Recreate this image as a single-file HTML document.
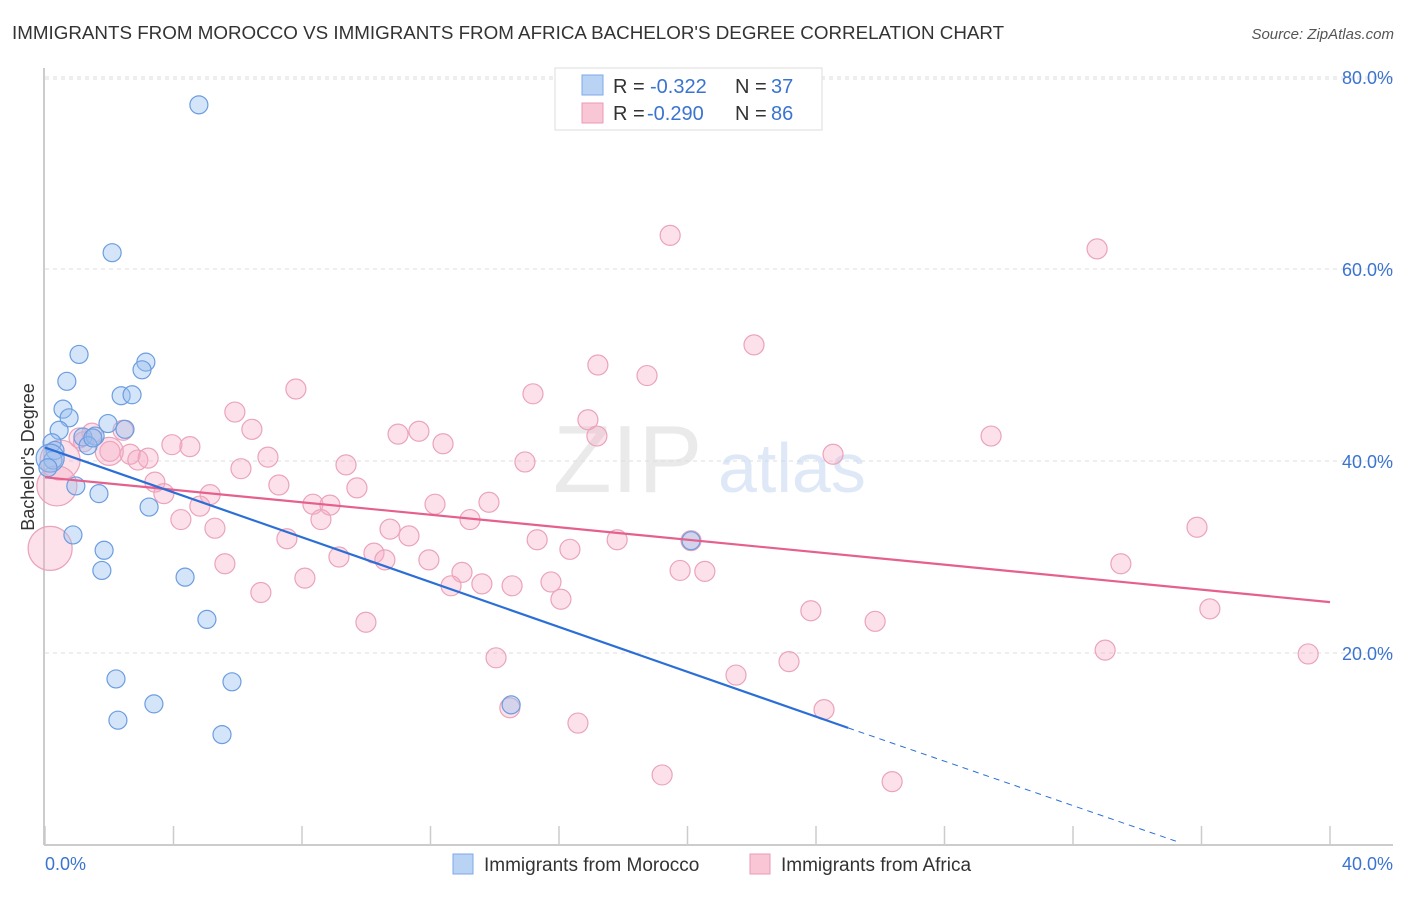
<!DOCTYPE html>
<html><head><meta charset="utf-8"><style>
body{margin:0;background:#fff;font-family:"Liberation Sans",sans-serif;}
svg text{font-family:"Liberation Sans",sans-serif;}
</style></head><body>
<svg id="chart" width="1406" height="892" xmlns="http://www.w3.org/2000/svg">
<text x="12" y="39" font-size="18.8" fill="#333">IMMIGRANTS FROM MOROCCO VS IMMIGRANTS FROM AFRICA BACHELOR'S DEGREE CORRELATION CHART</text>
<text x="1394" y="39" font-size="15" fill="#555" font-style="italic" text-anchor="end">Source: ZipAtlas.com</text>
<text transform="translate(34,457) rotate(-90)" font-size="18" fill="#333" text-anchor="middle">Bachelor's Degree</text>
<g id="grid"></g>
<g><text x="553" y="492" font-size="96" fill="#ddd" font-family="Liberation Serif" opacity="0.6">ZIP</text><text x="718" y="492" font-size="70" fill="#c9daf2" opacity="0.6">atlas</text></g>
<g id="axes"></g>
<g id="pink"></g>
<g id="blue"></g>
<g id="trends"></g>
<g>
<rect x="555" y="68" width="267" height="62" fill="#fff" stroke="#ddd"/>
<rect x="582" y="75" width="21" height="20" fill="#b9d3f5" stroke="#7ea8e6"/>
<rect x="582" y="103" width="21" height="20" fill="#f9c6d5" stroke="#eb9ab5"/>
<text x="613" y="93" font-size="20" fill="#333">R = </text><text x="650" y="93" font-size="20" fill="#3a74d0">-0.322</text>
<text x="735" y="93" font-size="20" fill="#333">N = </text><text x="771" y="93" font-size="20" fill="#3a74d0">37</text>
<text x="613" y="120" font-size="20" fill="#333">R = </text><text x="647" y="120" font-size="20" fill="#3a74d0">-0.290</text>
<text x="735" y="120" font-size="20" fill="#333">N = </text><text x="771" y="120" font-size="20" fill="#3a74d0">86</text>
</g>
<g>
<g><rect x="453" y="854" width="20" height="20" fill="#b9d3f5" stroke="#7ea8e6"/><text x="484" y="871" font-size="19" fill="#333">Immigrants from Morocco</text></g>
<g><rect x="750" y="854" width="20" height="20" fill="#f9c6d5" stroke="#eb9ab5"/><text x="781" y="871" font-size="19" fill="#333">Immigrants from Africa</text></g>
</g>
</svg>
<script>
const yTicks=[20,40,60,80];
const yTickLabels=["20.0%","40.0%","60.0%","80.0%"];
const xTicks=[0,4,8,12,16,20,24,28,32,36,40];
const xTickLabels=["0.0%","40.0%"];
const blueX=[4.79,2.09,1.06,3.14,3.02,0.68,2.37,2.71,0.56,0.75,0.44,1.96,2.49,1.18,1.56,1.34,0.22,0.31,0.25,0.96,1.68,3.24,0.87,1.84,1.77,4.36,5.04,2.21,3.39,5.82,2.27,5.51,14.51,20.11,0.16,1.49,0.09];
const blueY=[77.1,61.7,51.1,50.3,49.5,48.3,46.8,46.9,45.4,44.5,43.2,43.9,43.3,42.5,42.6,41.6,41.9,41.1,40.1,37.4,36.6,35.2,32.3,30.7,28.6,27.9,23.5,17.3,14.7,17.0,13.0,11.5,14.6,31.7,40.3,42.4,39.3];
const pinkX=[19.46,32.75,22.07,17.21,18.74,7.81,15.19,5.91,16.90,6.44,10.99,11.64,29.45,17.18,12.39,3.95,4.51,1.46,2.43,1.06,6.94,9.37,6.10,14.94,24.53,2.02,2.65,2.89,3.21,0.47,0.37,0.16,3.42,3.70,7.28,5.14,9.71,4.82,12.14,13.82,8.34,8.87,13.23,4.23,8.59,5.29,10.74,35.86,11.33,15.32,7.53,16.34,17.81,10.24,9.15,11.95,10.58,5.60,33.49,12.98,19.77,20.54,8.09,13.60,15.75,14.54,12.64,16.06,6.72,23.84,25.84,36.26,9.99,14.04,33.00,23.16,39.32,21.51,24.25,14.47,16.59,19.21,26.37,20.11,2.0,1.2];
const pinkY=[63.5,62.1,52.1,50.0,48.9,47.5,47.0,45.1,44.3,43.3,42.8,43.1,42.6,42.6,41.8,41.7,41.5,42.9,43.2,42.4,40.4,39.6,39.2,39.9,40.7,41.0,40.7,40.1,40.3,40.1,37.4,30.9,37.8,36.6,37.5,36.5,37.2,35.3,35.5,35.7,35.5,35.4,33.9,33.9,33.9,33.0,32.9,33.1,32.2,31.8,31.9,30.8,31.8,30.4,30.0,29.7,29.7,29.3,29.3,28.4,28.6,28.5,27.8,27.2,27.4,27.0,27.0,25.6,26.3,24.4,23.3,24.6,23.2,19.5,20.3,19.1,19.9,17.7,14.1,14.3,12.7,7.3,6.6,31.7,41.0,42.0];
const pinkR=[10,10,10,10,10,10,10,10,10,10,10,10,10,10,10,10,10,10,10,10,10,10,10,10,10,10,10,10,10,20,20,22,10,10,10,10,10,10,10,10,10,10,10,10,10,10,10,10,10,10,10,10,10,10,10,10,10,10,10,10,10,10,10,10,10,10,10,10,10,10,10,10,10,10,10,10,10,10,10,10,10,10,10,10,14,10];
const blueTrend=[[0,41.4],[25,12.2]];
const blueDash=[[25,12.2],[35.2,0.4]];
const pinkTrend=[[0,38.3],[40,25.3]];
const X0=45,X1=1330,Y0=845,PPY=9.6;
const sx=v=>X0+(X1-X0)*v/40;
const sy=v=>Y0-v*PPY;
const NS="http://www.w3.org/2000/svg";
function mk(tag,attrs,parent){const e=document.createElementNS(NS,tag);for(const k in attrs)e.setAttribute(k,attrs[k]);parent.appendChild(e);return e;}
const gridG=document.getElementById('grid'),axesG=document.getElementById('axes');
yTicks.forEach((t,i)=>{
 const l=mk('line',{x1:45,x2:1393,y1:sy(t),y2:sy(t),stroke:'#ddd','stroke-dasharray':'4,4'},gridG);
 
 
 const tx=mk('text',{x:1393,y:sy(t)+7,'font-size':18,fill:'#3a74d0','text-anchor':'end'},axesG);
 tx.textContent=yTickLabels[i];
 
 
});
const topGrid=mk('line',{x1:45,x2:1393,y1:79,y2:79,stroke:'#ddd','stroke-dasharray':'4,4'},gridG);


const ya=mk('line',{x1:44,x2:44,y1:68,y2:Y0,stroke:'#bbb','stroke-width':1.5},axesG);


const xa=mk('line',{x1:44,x2:1393,y1:Y0,y2:Y0,stroke:'#bbb','stroke-width':1.5},axesG);


xTicks.forEach(t=>{
 const l=mk('line',{x1:sx(t),x2:sx(t),y1:826,y2:Y0,stroke:'#ccc','stroke-width':1.5},axesG);
 
 
});
const xl0=mk('text',{x:45,y:870,'font-size':18,fill:'#3a74d0'},axesG);xl0.textContent=xTickLabels[0];


const xl1=mk('text',{x:1393,y:870,'font-size':18,fill:'#3a74d0','text-anchor':'end'},axesG);xl1.textContent=xTickLabels[1];


const pg=document.getElementById('pink');
pinkX.forEach((x,i)=>{
 const c=mk('circle',{cx:sx(x),cy:sy(pinkY[i]),r:pinkR[i]||10,fill:'rgba(245,170,195,0.35)',stroke:'#eba3bb','stroke-width':1.2},pg);
 
 
});
const bg=document.getElementById('blue');
blueX.forEach((x,i)=>{
 const c=mk('circle',{cx:sx(x),cy:sy(blueY[i]),r:(i==34?14:9),fill:'rgba(150,190,240,0.4)',stroke:'#6b9de0','stroke-width':1.2},bg);
 
 
});
const tg=document.getElementById('trends');
const pl=mk('line',{x1:sx(pinkTrend[0][0]),y1:sy(pinkTrend[0][1]),x2:sx(pinkTrend[1][0]),y2:sy(pinkTrend[1][1]),stroke:'#e5608c','stroke-width':2.2},tg);


const bl=mk('line',{x1:sx(blueTrend[0][0]),y1:sy(blueTrend[0][1]),x2:sx(blueTrend[1][0]),y2:sy(blueTrend[1][1]),stroke:'#2b6fd6','stroke-width':2.2},tg);


const bd=mk('line',{x1:sx(blueDash[0][0]),y1:sy(blueDash[0][1]),x2:sx(blueDash[1][0]),y2:sy(blueDash[1][1]),stroke:'#2b6fd6','stroke-width':1,'stroke-dasharray':'6,5'},tg);


</script>
</body></html>
